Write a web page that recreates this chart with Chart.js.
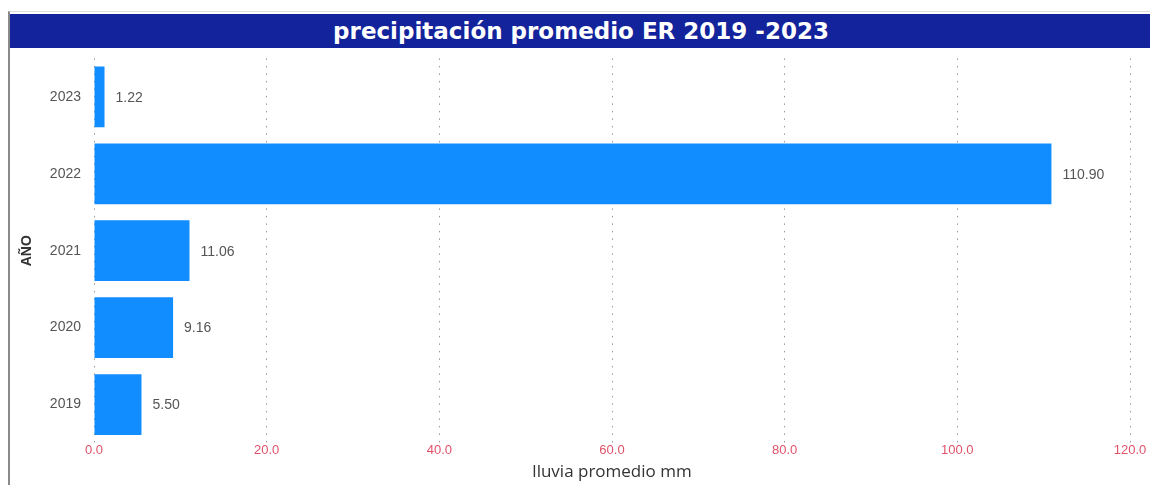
<!DOCTYPE html>
<html>
<head>
<meta charset="utf-8">
<script src="https://cdn.jsdelivr.net/npm/chart.js@4"></script>
<style>
  body { margin: 0; background: #fff; width: 1150px; height: 485px; overflow: hidden; }
  #frame { position: absolute; left: 8px; top: 11px; width: 1142px; height: 474px;
           border-left: 2px solid #8a8a8a; border-top: 1px solid #ddd; }
  #title { position: absolute; left: 0; top: 2px; width: 1142px; height: 34px;
           background: #12239b; color: #fff; font: bold 23px "DejaVu Sans", sans-serif;
           text-align: center; line-height: 34px; }
  #wrap { position: absolute; left: 0; top: 25px; width: 1142px; height: 448px; }
</style>
</head>
<body>
<div id="frame">
  <div id="title">precipitación promedio ER 2019 -2023</div>
  <div id="wrap"><canvas id="chart"></canvas></div>
</div>
<script>
const years = ['2023', '2022', '2021', '2020', '2019'];
const rainfall = [1.22, 110.90, 11.06, 9.16, 5.50];
const xTicks = [0, 20, 40, 60, 80, 100, 120];

// labels next to each bar end
const valueLabels = {
  id: 'valueLabels',
  afterDatasetsDraw(chart) {
    const ctx = chart.ctx;
    const meta = chart.getDatasetMeta(0);
    ctx.save();
    ctx.font = '14px "Liberation Sans", Arial, sans-serif';
    ctx.fillStyle = '#555';
    ctx.textBaseline = 'middle';
    meta.data.forEach((bar, i) => {
      ctx.fillText(rainfall[i].toFixed(2), bar.x + 11, bar.y + 1);
    });
    ctx.restore();
  }
};

const ctx = document.getElementById('chart').getContext('2d');
new Chart(ctx, {
  type: 'bar',
  data: {
    labels: years,
    datasets: [{
      data: rainfall,
      backgroundColor: '#118dff',
      categoryPercentage: 1,
      barPercentage: 0.79
    }]
  },
  options: {
    indexAxis: 'y',
    responsive: true,
    maintainAspectRatio: false,
    animation: false,
    layout: { padding: { top: 1, right: 22, left: 6, bottom: 0 } },
    plugins: { legend: { display: false }, tooltip: { enabled: false } },
    scales: {
      x: {
        min: 0, max: 120,
        afterBuildTicks: s => { s.ticks = xTicks.map(v => ({ value: v })); },
        grid: { color: '#999', lineWidth: 1, drawTicks: false },
        border: { display: false, dash: [1.5, 6] },
        afterFit: s => { s.height = 42; },
        ticks: {
          color: '#e0516a', padding: 0,
          font: { size: 13, family: '"Liberation Sans", Arial, sans-serif' },
          callback: v => v.toFixed(1)
        },
        title: {
          display: true, text: 'lluvia promedio mm', color: '#333',
          font: { size: 17, family: '"Open Sans", "Noto Sans", sans-serif' },
          padding: { top: 0, bottom: 3 }
        }
      },
      y: {
        grid: { display: false, drawTicks: false },
        border: { display: false },
        afterFit: s => { s.width = 78; },
        ticks: {
          color: '#555', padding: 13,
          font: { size: 14, family: '"Liberation Sans", Arial, sans-serif' }
        },
        title: {
          display: true, text: 'AÑO', color: '#333',
          font: { size: 14, weight: 'bold', family: '"Liberation Sans", Arial, sans-serif' },
          padding: { top: 3, bottom: 0 }
        }
      }
    }
  },
  plugins: [valueLabels]
});
</script>
</body>
</html>
